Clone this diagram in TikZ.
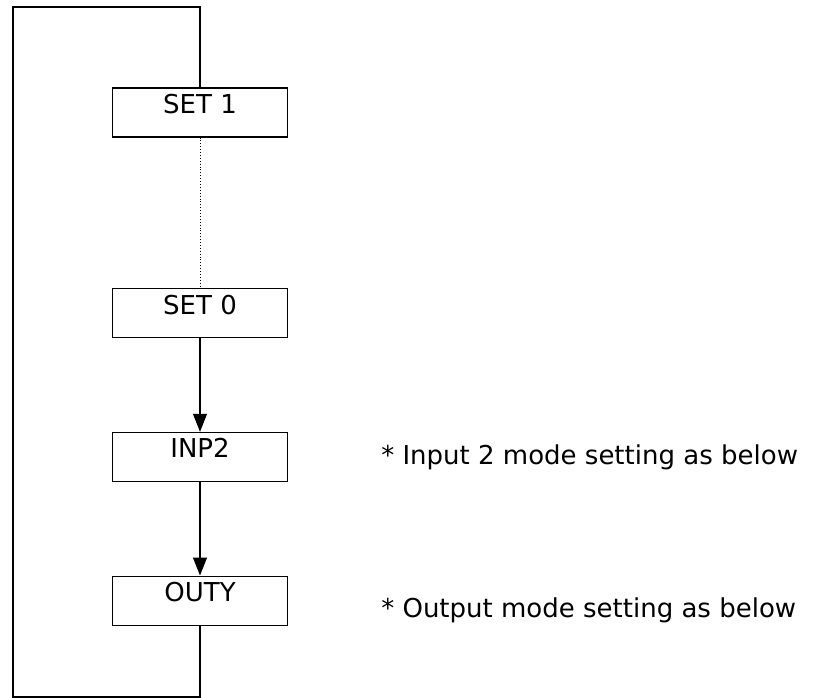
\documentclass[tikz,border=0pt]{standalone}
\usepackage{fontspec}
\setmainfont{DejaVu Sans}
\usetikzlibrary{positioning,arrows.meta}
\tikzset{
  modebox/.style={draw,line width=1.2pt,minimum width=175pt,minimum height=49pt,
    inner sep=0pt,text height=20pt,text depth=18pt,
    font=\fontsize{26}{30}\selectfont,anchor=center},
  note/.style={anchor=west,inner sep=0pt,font=\fontsize{26}{30}\selectfont},
  flow/.style={line width=1.2pt,-{Triangle[length=18pt,width=14pt]}},
  back/.style={line width=1.2pt}
}
\begin{document}
\begin{tikzpicture}[x=1pt,y=-1pt]
\useasboundingbox (0,0) rectangle (822,698);
\node[modebox] (set1) at (200,112.5) {SET 1};
\node[modebox,below=150.5pt of set1] (set0) {SET 0};
\node[modebox,below=93.5pt of set0] (inp2) {INP2};
\node[modebox,below=93.5pt of inp2] (outy) {OUTY};
\node[note,right=93pt of inp2] (n1) {* Input 2 mode setting as below};
\node[note,right=93pt of outy,yshift=-10pt] (n2) {* Output mode setting as below};
% loop corners
\coordinate (lt) at (13,7);
\coordinate (lb) at (13,697);
\draw[dotted,line width=0.9pt] (set1) -- (set0);
\draw[flow] (set0) -- (inp2);
\draw[flow] (inp2) -- (outy);
\draw[back] (outy.south) -- (outy.south |- lb) -- (lb) -- (lt) -- (set1.north |- lt) -- (set1.north);
\end{tikzpicture}
\end{document}
